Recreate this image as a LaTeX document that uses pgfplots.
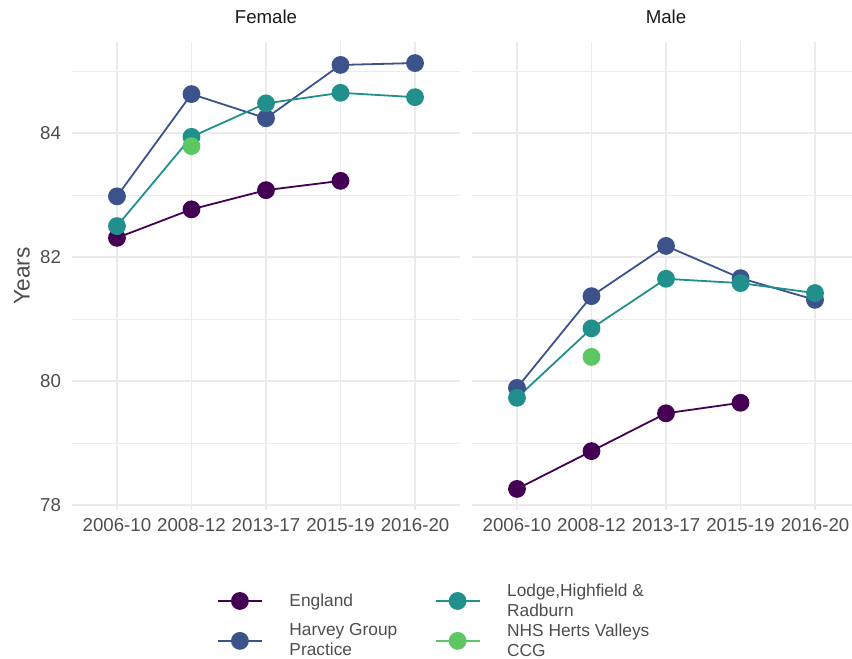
\documentclass[border=0pt]{standalone}
\usepackage{pgfplots}
\pgfplotsset{compat=1.18}
\usepackage{fontspec}
\setmainfont{Liberation Sans}
\definecolor{cEng}{HTML}{440154}
\definecolor{cHar}{HTML}{3B528B}
\definecolor{cLod}{HTML}{21908C}
\definecolor{cNHS}{HTML}{5DC863}
\definecolor{gridc}{HTML}{EBEBEB}
\definecolor{txt30}{HTML}{4D4D4D}
\definecolor{txt10}{HTML}{1A1A1A}
\pgfplotsset{
  panel/.style={
    scale only axis,
    width=290.6pt, height=351pt,
    xmin=-0.6, xmax=4.6, ymin=77.92, ymax=85.47,
    xtick={0,1,2,3,4},
    xticklabels={2006-10,2008-12,2013-17,2015-19,2016-20},
    ytick={78,80,82,84}, minor ytick={79,81,83,85},
    xmajorgrids, ymajorgrids, yminorgrids,
    major grid style={draw=gridc, line width=1.3pt},
    minor grid style={draw=gridc, line width=0.65pt},
    axis line style={draw=none},
    major tick length=0pt, minor tick length=0pt,
    /pgf/number format/assume math mode=true,
    tick label style={font=\fontsize{14}{16}\selectfont, text=txt30},
    xticklabel style={yshift=-3pt},
    yticklabel style={xshift=-5pt},
    title style={font=\fontsize{14}{16}\selectfont, text=txt10, at={(0.5,1)}, anchor=south, yshift=4pt},
    every axis plot/.append style={line width=1.35pt, mark=*, mark size=6pt},
    legend image code/.code={\draw[mark repeat=2,mark phase=2] plot coordinates {(0pt,0pt)(16.5pt,0pt)(33pt,0pt)};},
  }
}
\begin{document}
\begin{tikzpicture}
\useasboundingbox (0,0) rectangle (639pt,493.5pt);
\begin{axis}[panel, at={(54.2pt,111pt)}, anchor=south west, title={Female},
  ylabel={Years},
  ylabel style={font=\fontsize{17}{19}\selectfont, text=txt30, at={(axis description cs:-0.13,0.5)}, anchor=center},
  legend style={draw=none, fill=none, at={(0.935,-0.237)}, anchor=center,
    font=\fontsize{13}{15}\selectfont, text=txt30,
    cells={align=left, anchor=west},
    /tikz/every odd column/.append style={column sep=18pt},
    /tikz/every even column/.append style={column sep=26pt}},
  legend columns=2, transpose legend]
\addplot[color=cEng, mark options={fill=cEng}] coordinates {(0,82.31) (1,82.77) (2,83.08) (3,83.23)};
\addlegendentry{England}
\addplot[color=cHar, mark options={fill=cHar}] coordinates {(0,82.98) (1,84.63) (2,84.24) (3,85.10) (4,85.13)};
\addlegendentry{Harvey Group\\Practice}
\addplot[color=cLod, mark options={fill=cLod}] coordinates {(0,82.50) (1,83.94) (2,84.48) (3,84.65) (4,84.58)};
\addlegendentry{Lodge,Highfield \&\\Radburn}
\addplot[color=cNHS, mark options={fill=cNHS}] coordinates {(1,83.79)};
\addlegendentry{NHS Herts Valleys\\CCG}
\end{axis}
\begin{axis}[panel, at={(354.2pt,111pt)}, anchor=south west, title={Male}, yticklabels={}]
\addplot[color=cEng, mark options={fill=cEng}] coordinates {(0,78.26) (1,78.87) (2,79.48) (3,79.65)};
\addplot[color=cHar, mark options={fill=cHar}] coordinates {(0,79.89) (1,81.37) (2,82.18) (3,81.66) (4,81.31)};
\addplot[color=cLod, mark options={fill=cLod}] coordinates {(0,79.73) (1,80.85) (2,81.65) (3,81.58) (4,81.42)};
\addplot[color=cNHS, mark options={fill=cNHS}] coordinates {(1,80.39)};
\end{axis}
\end{tikzpicture}
\end{document}
